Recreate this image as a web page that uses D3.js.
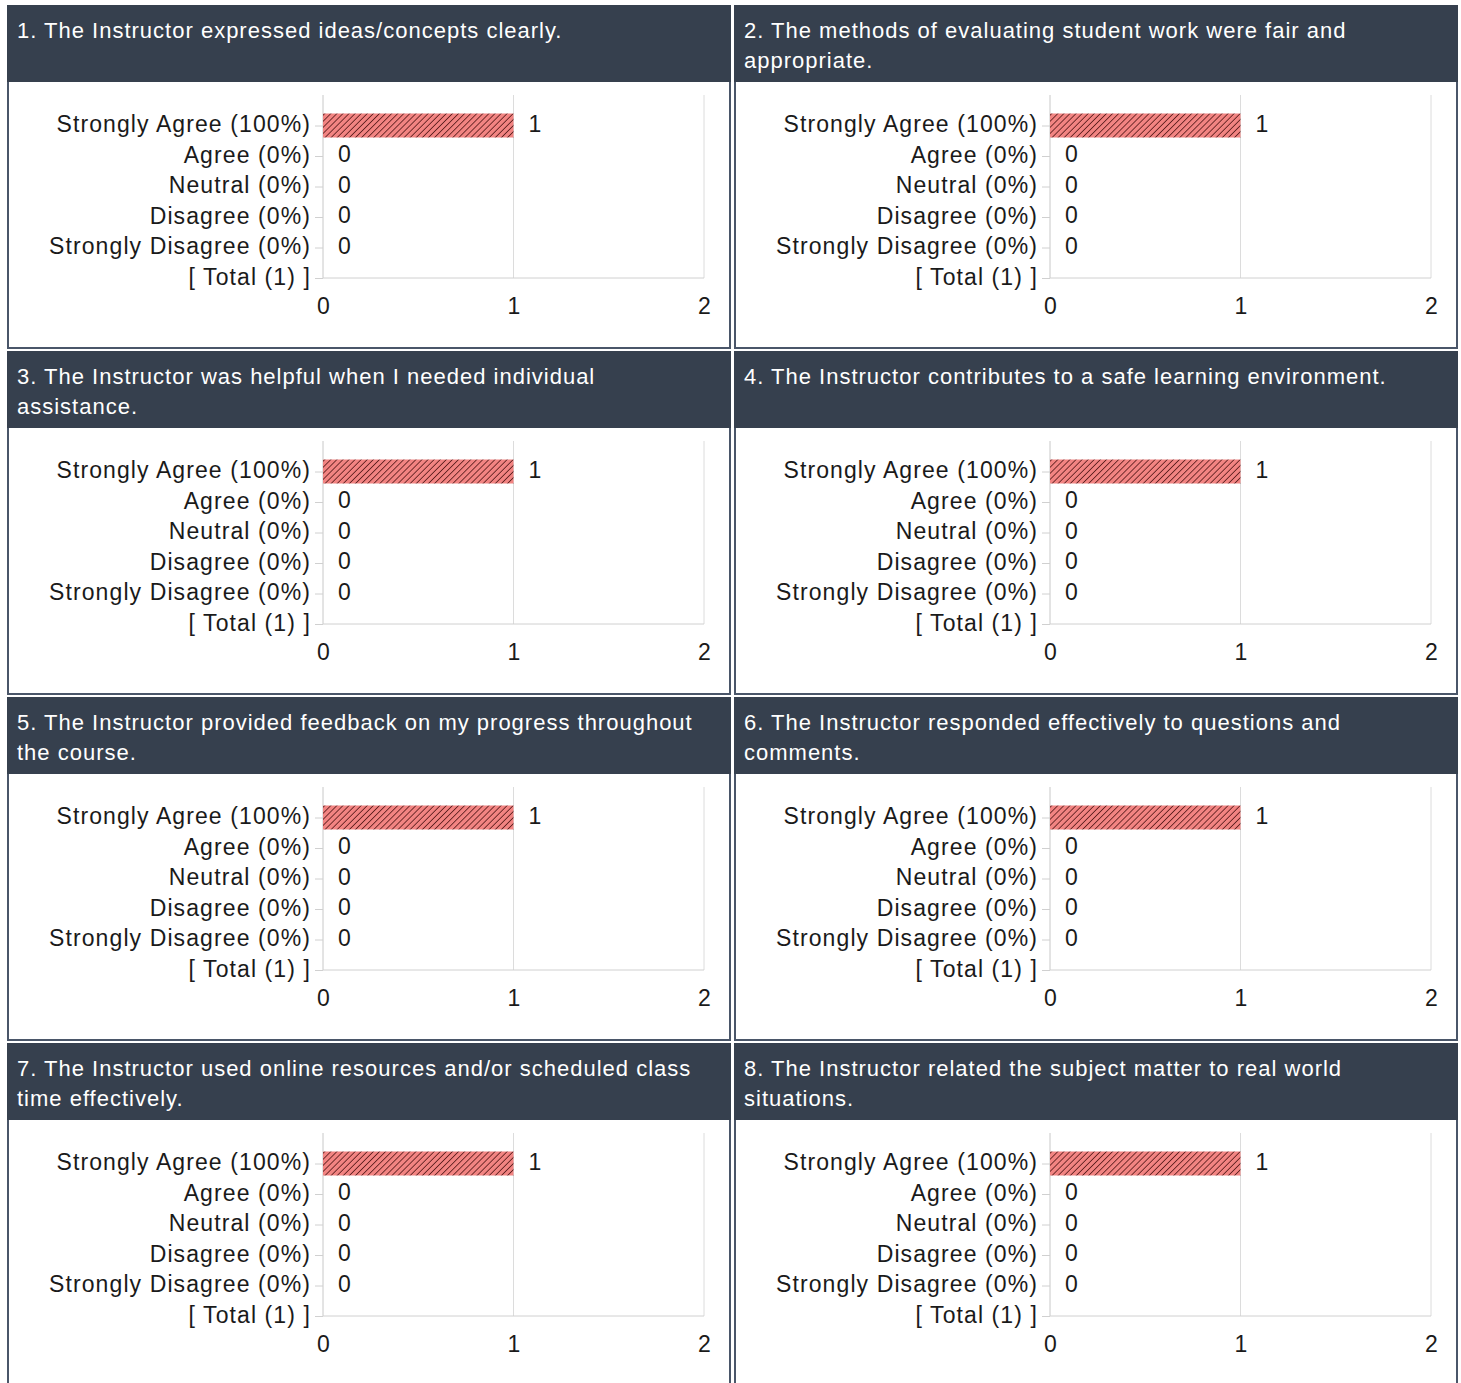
<!DOCTYPE html>
<html>
<head>
<meta charset="utf-8">
<script src="https://cdn.jsdelivr.net/npm/d3@7"></script>
<style>
  body { margin: 0; background: #fff; overflow: hidden; }
  svg { display: block; font-family: "Liberation Sans", Arial, sans-serif; }
</style>
</head>
<body>
<svg id="chart" width="1461" height="1383"></svg>
<script>
// Question titles, already split into the lines shown in each header
const titles = [
  ["1. The Instructor expressed ideas/concepts clearly."],
  ["2. The methods of evaluating student work were fair and", "appropriate."],
  ["3. The Instructor was helpful when I needed individual", "assistance."],
  ["4. The Instructor contributes to a safe learning environment."],
  ["5. The Instructor provided feedback on my progress throughout", "the course."],
  ["6. The Instructor responded effectively to questions and", "comments."],
  ["7. The Instructor used online resources and/or scheduled class", "time effectively."],
  ["8. The Instructor related the subject matter to real world", "situations."]
];

// Answer categories (the last row is the total, it has no bar)
const categories = [
  "Strongly Agree (100%)",
  "Agree (0%)",
  "Neutral (0%)",
  "Disagree (0%)",
  "Strongly Disagree (0%)",
  "[ Total (1) ]"
];

// Response counts per question, one per answer (total row excluded)
const counts = [
  [1, 0, 0, 0, 0],
  [1, 0, 0, 0, 0],
  [1, 0, 0, 0, 0],
  [1, 0, 0, 0, 0],
  [1, 0, 0, 0, 0],
  [1, 0, 0, 0, 0],
  [1, 0, 0, 0, 0],
  [1, 0, 0, 0, 0]
];

const xTicks = [0, 1, 2];

// Panel layout
const panelW = 724, panelH = 344,
      colStep = 727, rowStep = 346,
      originX = 7, originY = 5,
      headerH = 77;

const svg = d3.select('#chart');

// Hatched fill for the bars
const defs = svg.append('defs');
const pat = defs.append('pattern')
    .attr('id', 'hatch')
    .attr('patternUnits', 'userSpaceOnUse')
    .attr('width', 4.3)
    .attr('height', 4.3)
    .attr('patternTransform', 'rotate(45)');
pat.append('rect')
    .attr('width', 4.3).attr('height', 4.3)
    .attr('fill', '#f28482');
pat.append('line')
    .attr('x1', 0).attr('y1', 0)
    .attr('x2', 0).attr('y2', 4.3)
    .attr('stroke', '#5e1f1f')
    .attr('stroke-width', 1.7);

// Scales shared by every panel (panel-local coordinates)
const x = d3.scaleLinear()
    .domain([0, 2])
    .range([316, 697]);

const y = d3.scalePoint()
    .domain(categories)
    .range([120.5, 273]);

const plotTop = 90, plotBottom = 273;
const barH = 24;
const font = '"Liberation Sans", Arial, sans-serif';

titles.forEach((lines, i) => {
    const col = i % 2, row = Math.floor(i / 2);
    const g = svg.append('g')
        .attr('transform', 'translate(' + (originX + col * colStep) + ',' + (originY + row * rowStep) + ')');

    // Panel body and header
    g.append('rect')
        .attr('x', 1).attr('y', 1)
        .attr('width', panelW - 2).attr('height', panelH - 2)
        .attr('fill', '#fff')
        .attr('stroke', '#4a5669')
        .attr('stroke-width', 2);
    g.append('rect')
        .attr('width', panelW).attr('height', headerH)
        .attr('fill', '#36404e');

    const title = g.append('text')
        .attr('x', 10)
        .attr('y', 33)
        .attr('fill', '#fff')
        .attr('font-size', 22)
        .attr('letter-spacing', 1);
    title.selectAll('tspan')
        .data(lines)
        .enter()
        .append('tspan')
        .attr('x', 10)
        .attr('dy', (d, j) => j == 0 ? 0 : 30)
        .text(d => d);

    // Vertical gridlines
    g.append('g')
        .selectAll('line')
        .data(xTicks)
        .enter()
        .append('line')
        .attr('x1', d => x(d)).attr('x2', d => x(d))
        .attr('y1', plotTop).attr('y2', plotBottom)
        .attr('stroke', d => d == 0 ? '#c8c8c8' : '#dcdcdc')
        .attr('stroke-width', 1);

    // Baseline
    g.append('line')
        .attr('x1', x(0)).attr('x2', x(2))
        .attr('y1', plotBottom).attr('y2', plotBottom)
        .attr('stroke', '#d0d0d0');

    // Category axis
    const yAxis = g.append('g')
        .attr('transform', 'translate(' + x(0) + ',0)')
        .call(d3.axisLeft(y).tickSize(8).tickPadding(4));
    yAxis.select('.domain').remove();
    yAxis.selectAll('.tick line').attr('stroke', '#d0d0d0');
    yAxis.selectAll('.tick text')
        .attr('font-size', 23)
        .attr('font-family', font)
        .attr('letter-spacing', 1.1)
        .attr('fill', '#1a1a1a')
        .attr('dy', '0.28em');

    // Value axis labels
    const xAxis = g.append('g')
        .attr('transform', 'translate(0,' + plotBottom + ')')
        .call(d3.axisBottom(x).tickValues(xTicks).tickFormat(d3.format('d')).tickSize(0).tickPadding(20));
    xAxis.select('.domain').remove();
    xAxis.selectAll('.tick text')
        .attr('font-size', 23)
        .attr('font-family', font)
        .attr('fill', '#1a1a1a');

    // Bars
    const data = counts[i].map((v, j) => ({cat: categories[j], value: v}));
    g.append('g')
        .selectAll('rect')
        .data(data.filter(d => d.value > 0))
        .enter()
        .append('rect')
        .attr('x', x(0))
        .attr('y', d => y(d.cat) - barH / 2)
        .attr('width', d => x(d.value) - x(0))
        .attr('height', barH)
        .attr('fill', 'url(#hatch)');

    // Value labels
    g.append('g')
        .selectAll('text')
        .data(data)
        .enter()
        .append('text')
        .attr('x', d => x(d.value) + 15)
        .attr('y', d => y(d.cat))
        .attr('dy', '0.28em')
        .attr('font-size', 23)
        .attr('fill', '#1a1a1a')
        .text(d => d.value);
});
</script>
</body>
</html>
